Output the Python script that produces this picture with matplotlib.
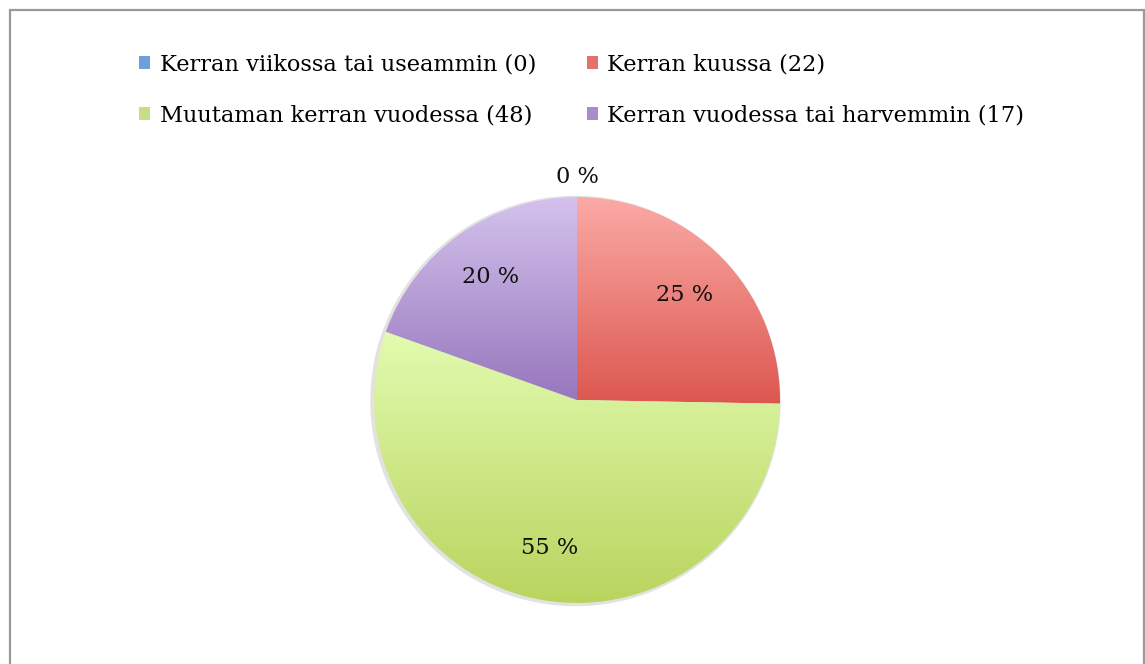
import matplotlib

matplotlib.use("Agg")
import matplotlib.pyplot as plt  # noqa: E402
import numpy as np  # noqa: E402
from matplotlib.colors import LinearSegmentedColormap  # noqa: E402
from matplotlib.patches import Patch, Rectangle  # noqa: E402

# data
labels = [
    "Kerran viikossa tai useammin (0)",
    "Kerran kuussa (22)",
    "Muutaman kerran vuodessa (48)",
    "Kerran vuodessa tai harvemmin (17)",
]
counts = [0, 22, 48, 17]
# gradient (top, bottom) per slice, Excel style
grad_top = ["#a9cbf2", "#fbaaa6", "#e2fbb0", "#d4c2ec"]
grad_bot = ["#4f86c6", "#dc574f", "#b9d45e", "#9777bd"]
legend_cols = ["#6f9fd8", "#e4726c", "#c6df86", "#a88ccb"]

W, H = 1145, 664
fig = plt.figure(figsize=(W / 100, H / 100), dpi=100)
ax = fig.add_axes([0, 0, 1, 1])
ax.set_xlim(0, W)
ax.set_ylim(0, H)
ax.set_aspect("equal")
ax.axis("off")

FONT = "DejaVu Serif"
FS = 16.2
cx, cy, R = 577, 264, 203

# faint shadow behind the pie (lower left)
ax.add_patch(plt.Circle((cx - 1.5, cy - 1), R + 1.5, color="#e2e2e2", zorder=0))

wedges, texts, autotexts = ax.pie(
    counts, startangle=90, counterclock=False, center=(cx, cy), radius=R,
    autopct=lambda p: f"{p:.0f} %", pctdistance=0.74, frame=False,
    wedgeprops=dict(linewidth=0), textprops=dict(fontsize=FS, family=FONT, color="#111111"),
)

for i, w in enumerate(wedges):
    w.set_facecolor("none")
    if counts[i] == 0:
        continue
    t1, t2 = np.deg2rad(w.theta1), np.deg2rad(w.theta2)
    ts = np.linspace(t1, t2, 200)
    xs = np.concatenate([[cx], cx + R * np.cos(ts)])
    ys = np.concatenate([[cy], cy + R * np.sin(ts)])
    cmap = LinearSegmentedColormap.from_list(f"g{i}", [grad_bot[i], grad_top[i]])
    grad = np.linspace(0, 1, 256).reshape(-1, 1)
    im = ax.imshow(grad, cmap=cmap, origin="lower", aspect="auto",
                   extent=[xs.min(), xs.max(), ys.min(), ys.max()], zorder=1)
    im.set_clip_path(w)

ax.set_xlim(0, W)
ax.set_ylim(0, H)

# zero slice label sits outside the pie
for i, t in enumerate(autotexts):
    t.set_zorder(5)
    if counts[i] == 0:
        t.set_position((cx, cy + R * 1.10))

handles = [Patch(facecolor=c, edgecolor="none") for c in legend_cols]
order = [0, 2, 1, 3]
leg = fig.legend(
    [handles[i] for i in order], [labels[i] for i in order], ncol=2,
    loc="upper left", bbox_to_anchor=(139 / W, 0.92), frameon=False, borderpad=0,
    borderaxespad=0, prop=dict(family=FONT, size=FS), handlelength=0.5,
    handleheight=0.5, handletextpad=0.42, columnspacing=2.25, labelspacing=1.3,
)

# chart frame
fig.add_artist(Rectangle((10 / W, -0.01), (1144 - 10) / W, (H - 10) / H + 0.01,
                         transform=fig.transFigure, fill=False,
                         edgecolor="#999999", linewidth=1.6))

fig.savefig("out.png", dpi=100)
